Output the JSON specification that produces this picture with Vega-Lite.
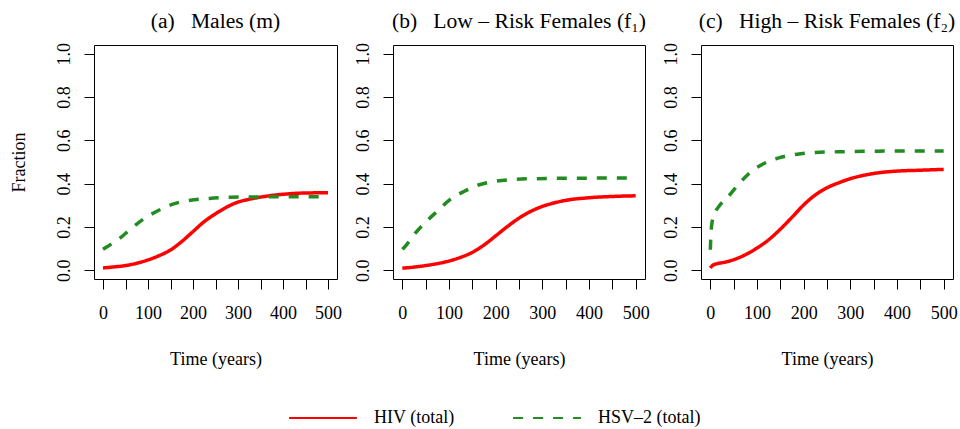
{
  "$schema": "https://vega.github.io/schema/vega-lite/v6.json",
  "padding": {"left": 9, "top": 10, "right": 0, "bottom": 0},
  "background": "white",
  "data": {"values": [
    {"p": "a", "s": "HIV (total)", "t": 0, "v": 0.011},
    {"p": "a", "s": "HIV (total)", "t": 25, "v": 0.016},
    {"p": "a", "s": "HIV (total)", "t": 50, "v": 0.022},
    {"p": "a", "s": "HIV (total)", "t": 75, "v": 0.033},
    {"p": "a", "s": "HIV (total)", "t": 100, "v": 0.048},
    {"p": "a", "s": "HIV (total)", "t": 125, "v": 0.068},
    {"p": "a", "s": "HIV (total)", "t": 150, "v": 0.094},
    {"p": "a", "s": "HIV (total)", "t": 175, "v": 0.133},
    {"p": "a", "s": "HIV (total)", "t": 200, "v": 0.179},
    {"p": "a", "s": "HIV (total)", "t": 225, "v": 0.225},
    {"p": "a", "s": "HIV (total)", "t": 250, "v": 0.261},
    {"p": "a", "s": "HIV (total)", "t": 275, "v": 0.292},
    {"p": "a", "s": "HIV (total)", "t": 300, "v": 0.315},
    {"p": "a", "s": "HIV (total)", "t": 325, "v": 0.328},
    {"p": "a", "s": "HIV (total)", "t": 350, "v": 0.338},
    {"p": "a", "s": "HIV (total)", "t": 400, "v": 0.351},
    {"p": "a", "s": "HIV (total)", "t": 450, "v": 0.357},
    {"p": "a", "s": "HIV (total)", "t": 500, "v": 0.358},
    {"p": "a", "s": "HSV–2 (total)", "t": 0, "v": 0.097},
    {"p": "a", "s": "HSV–2 (total)", "t": 10, "v": 0.11},
    {"p": "a", "s": "HSV–2 (total)", "t": 35, "v": 0.144},
    {"p": "a", "s": "HSV–2 (total)", "t": 63, "v": 0.193},
    {"p": "a", "s": "HSV–2 (total)", "t": 91, "v": 0.238},
    {"p": "a", "s": "HSV–2 (total)", "t": 123, "v": 0.276},
    {"p": "a", "s": "HSV–2 (total)", "t": 157, "v": 0.307},
    {"p": "a", "s": "HSV–2 (total)", "t": 194, "v": 0.323},
    {"p": "a", "s": "HSV–2 (total)", "t": 236, "v": 0.332},
    {"p": "a", "s": "HSV–2 (total)", "t": 283, "v": 0.337},
    {"p": "a", "s": "HSV–2 (total)", "t": 350, "v": 0.339},
    {"p": "a", "s": "HSV–2 (total)", "t": 500, "v": 0.34},
    {"p": "b", "s": "HIV (total)", "t": 0, "v": 0.01},
    {"p": "b", "s": "HIV (total)", "t": 25, "v": 0.015},
    {"p": "b", "s": "HIV (total)", "t": 50, "v": 0.022},
    {"p": "b", "s": "HIV (total)", "t": 75, "v": 0.031},
    {"p": "b", "s": "HIV (total)", "t": 100, "v": 0.043},
    {"p": "b", "s": "HIV (total)", "t": 125, "v": 0.06},
    {"p": "b", "s": "HIV (total)", "t": 150, "v": 0.083},
    {"p": "b", "s": "HIV (total)", "t": 175, "v": 0.117},
    {"p": "b", "s": "HIV (total)", "t": 200, "v": 0.159},
    {"p": "b", "s": "HIV (total)", "t": 225, "v": 0.202},
    {"p": "b", "s": "HIV (total)", "t": 250, "v": 0.241},
    {"p": "b", "s": "HIV (total)", "t": 275, "v": 0.272},
    {"p": "b", "s": "HIV (total)", "t": 300, "v": 0.295},
    {"p": "b", "s": "HIV (total)", "t": 325, "v": 0.311},
    {"p": "b", "s": "HIV (total)", "t": 350, "v": 0.323},
    {"p": "b", "s": "HIV (total)", "t": 400, "v": 0.335},
    {"p": "b", "s": "HIV (total)", "t": 450, "v": 0.341},
    {"p": "b", "s": "HIV (total)", "t": 500, "v": 0.344},
    {"p": "b", "s": "HSV–2 (total)", "t": 0, "v": 0.097},
    {"p": "b", "s": "HSV–2 (total)", "t": 6, "v": 0.11},
    {"p": "b", "s": "HSV–2 (total)", "t": 25, "v": 0.164},
    {"p": "b", "s": "HSV–2 (total)", "t": 51, "v": 0.225},
    {"p": "b", "s": "HSV–2 (total)", "t": 76, "v": 0.275},
    {"p": "b", "s": "HSV–2 (total)", "t": 102, "v": 0.326},
    {"p": "b", "s": "HSV–2 (total)", "t": 132, "v": 0.364},
    {"p": "b", "s": "HSV–2 (total)", "t": 165, "v": 0.395},
    {"p": "b", "s": "HSV–2 (total)", "t": 202, "v": 0.412},
    {"p": "b", "s": "HSV–2 (total)", "t": 241, "v": 0.42},
    {"p": "b", "s": "HSV–2 (total)", "t": 284, "v": 0.423},
    {"p": "b", "s": "HSV–2 (total)", "t": 350, "v": 0.425},
    {"p": "b", "s": "HSV–2 (total)", "t": 500, "v": 0.426},
    {"p": "c", "s": "HIV (total)", "t": 0, "v": 0.011},
    {"p": "c", "s": "HIV (total)", "t": 5, "v": 0.023},
    {"p": "c", "s": "HIV (total)", "t": 15, "v": 0.031},
    {"p": "c", "s": "HIV (total)", "t": 25, "v": 0.035},
    {"p": "c", "s": "HIV (total)", "t": 50, "v": 0.049},
    {"p": "c", "s": "HIV (total)", "t": 75, "v": 0.072},
    {"p": "c", "s": "HIV (total)", "t": 100, "v": 0.103},
    {"p": "c", "s": "HIV (total)", "t": 125, "v": 0.141},
    {"p": "c", "s": "HIV (total)", "t": 150, "v": 0.19},
    {"p": "c", "s": "HIV (total)", "t": 175, "v": 0.245},
    {"p": "c", "s": "HIV (total)", "t": 200, "v": 0.302},
    {"p": "c", "s": "HIV (total)", "t": 225, "v": 0.348},
    {"p": "c", "s": "HIV (total)", "t": 250, "v": 0.381},
    {"p": "c", "s": "HIV (total)", "t": 275, "v": 0.404},
    {"p": "c", "s": "HIV (total)", "t": 300, "v": 0.423},
    {"p": "c", "s": "HIV (total)", "t": 350, "v": 0.447},
    {"p": "c", "s": "HIV (total)", "t": 400, "v": 0.458},
    {"p": "c", "s": "HIV (total)", "t": 450, "v": 0.462},
    {"p": "c", "s": "HIV (total)", "t": 500, "v": 0.466},
    {"p": "c", "s": "HSV–2 (total)", "t": 0, "v": 0.095},
    {"p": "c", "s": "HSV–2 (total)", "t": 1, "v": 0.15},
    {"p": "c", "s": "HSV–2 (total)", "t": 2, "v": 0.19},
    {"p": "c", "s": "HSV–2 (total)", "t": 4, "v": 0.225},
    {"p": "c", "s": "HSV–2 (total)", "t": 7, "v": 0.25},
    {"p": "c", "s": "HSV–2 (total)", "t": 12, "v": 0.275},
    {"p": "c", "s": "HSV–2 (total)", "t": 19, "v": 0.297},
    {"p": "c", "s": "HSV–2 (total)", "t": 37, "v": 0.337},
    {"p": "c", "s": "HSV–2 (total)", "t": 62, "v": 0.401},
    {"p": "c", "s": "HSV–2 (total)", "t": 87, "v": 0.455},
    {"p": "c", "s": "HSV–2 (total)", "t": 115, "v": 0.493},
    {"p": "c", "s": "HSV–2 (total)", "t": 147, "v": 0.519},
    {"p": "c", "s": "HSV–2 (total)", "t": 186, "v": 0.536},
    {"p": "c", "s": "HSV–2 (total)", "t": 225, "v": 0.544},
    {"p": "c", "s": "HSV–2 (total)", "t": 272, "v": 0.547},
    {"p": "c", "s": "HSV–2 (total)", "t": 350, "v": 0.55},
    {"p": "c", "s": "HSV–2 (total)", "t": 500, "v": 0.551}
  ]},
  "spacing": 56,
  "bounds": "flush",
  "hconcat": [
    {
      "width": 243, "height": 234,
      "title": {"text": "(a)\u00a0\u00a0\u00a0Males (m)"},
      "transform": [{"filter": "datum.p === 'a'"}],
      "mark": {"type": "line", "strokeWidth": 3.5, "interpolate": "monotone"},
      "encoding": {
        "x": {"field": "t", "type": "quantitative", "scale": {"domain": [-20, 520], "nice": false, "zero": false},
              "axis": {"values": [0, 50, 100, 150, 200, 250, 300, 350, 400, 450, 500], "labelExpr": "datum.value % 100 === 0 ? datum.label : ''", "title": "Time (years)"}},
        "y": {"field": "v", "type": "quantitative", "scale": {"domain": [-0.04, 1.04], "nice": false, "zero": false},
              "axis": {"values": [0, 0.2, 0.4, 0.6, 0.8, 1.0], "format": ".1f", "title": "Fraction"}},
        "color": {"field": "s", "type": "nominal", "scale": {"domain": ["HIV (total)", "HSV–2 (total)"], "range": ["#ff0000", "#228b22"]}, "legend": {"title": null}},
        "strokeDash": {"field": "s", "type": "nominal", "scale": {"domain": ["HIV (total)", "HSV–2 (total)"], "range": [[1, 0], [10, 10]]}, "legend": {"title": null}}
      }
    },
    {
      "width": 252, "height": 234,
      "title": {"text": "(b)\u00a0\u00a0\u00a0Low\u00a0– Risk Females (f₁)"},
      "transform": [{"filter": "datum.p === 'b'"}],
      "mark": {"type": "line", "strokeWidth": 3.5, "interpolate": "monotone"},
      "encoding": {
        "x": {"field": "t", "type": "quantitative", "scale": {"domain": [-20, 520], "nice": false, "zero": false},
              "axis": {"values": [0, 50, 100, 150, 200, 250, 300, 350, 400, 450, 500], "labelExpr": "datum.value % 100 === 0 ? datum.label : ''", "title": "Time (years)"}},
        "y": {"field": "v", "type": "quantitative", "scale": {"domain": [-0.04, 1.04], "nice": false, "zero": false},
              "axis": {"values": [0, 0.2, 0.4, 0.6, 0.8, 1.0], "format": ".1f", "title": null}},
        "color": {"field": "s", "type": "nominal", "scale": {"domain": ["HIV (total)", "HSV–2 (total)"], "range": ["#ff0000", "#228b22"]}, "legend": {"title": null}},
        "strokeDash": {"field": "s", "type": "nominal", "scale": {"domain": ["HIV (total)", "HSV–2 (total)"], "range": [[1, 0], [10, 10]]}, "legend": {"title": null}}
      }
    },
    {
      "width": 252, "height": 234,
      "title": {"text": "(c)\u00a0\u00a0\u00a0High\u00a0– Risk Females (f₂)"},
      "transform": [{"filter": "datum.p === 'c'"}],
      "mark": {"type": "line", "strokeWidth": 3.5, "interpolate": "monotone"},
      "encoding": {
        "x": {"field": "t", "type": "quantitative", "scale": {"domain": [-20, 520], "nice": false, "zero": false},
              "axis": {"values": [0, 50, 100, 150, 200, 250, 300, 350, 400, 450, 500], "labelExpr": "datum.value % 100 === 0 ? datum.label : ''", "title": "Time (years)"}},
        "y": {"field": "v", "type": "quantitative", "scale": {"domain": [-0.04, 1.04], "nice": false, "zero": false},
              "axis": {"values": [0, 0.2, 0.4, 0.6, 0.8, 1.0], "format": ".1f", "title": null}},
        "color": {"field": "s", "type": "nominal", "scale": {"domain": ["HIV (total)", "HSV–2 (total)"], "range": ["#ff0000", "#228b22"]}, "legend": {"title": null}},
        "strokeDash": {"field": "s", "type": "nominal", "scale": {"domain": ["HIV (total)", "HSV–2 (total)"], "range": [[1, 0], [10, 10]]}, "legend": {"title": null}}
      }
    }
  ],
  "config": {
    "font": "Liberation Serif",
    "view": {"stroke": "#000000", "strokeWidth": 1},
    "style": {"guide-label": {"font": "Liberation Serif", "fontSize": 18, "fill": "#000000"}, "guide-title": {"font": "Liberation Serif", "fontSize": 18, "fill": "#000000"}},
    "axis": {
      "domain": false, "grid": false, "ticks": true, "tickColor": "#000000", "tickSize": 10, "tickWidth": 1,
      "labelFont": "Liberation Serif", "labelFontSize": 18, "labelColor": "#000000", "labelPadding": 15,
      "labelFlush": false, "labelOverlap": false,
      "titleFont": "Liberation Serif", "titleFontSize": 18, "titleFontWeight": "normal", "titleColor": "#000000"
    },
    "axisX": {"titlePadding": 28},
    "axisY": {"labelAngle": 270, "labelAlign": "center", "labelBaseline": "alphabetic", "titlePadding": 27},
    "title": {"font": "Liberation Serif", "fontSize": 21.6, "fontWeight": "normal", "color": "#000000", "anchor": "middle", "frame": "group", "offset": 10},
    "legend": {
      "orient": "none", "legendX": 194, "legendY": 338, "padding": 0,
      "direction": "horizontal", "symbolType": "stroke", "symbolSize": 4600, "symbolStrokeWidth": 2,
      "labelFont": "Liberation Serif", "labelFontSize": 18, "labelColor": "#000000", "labelOffset": 16, "columnPadding": 54
    }
  }
}
